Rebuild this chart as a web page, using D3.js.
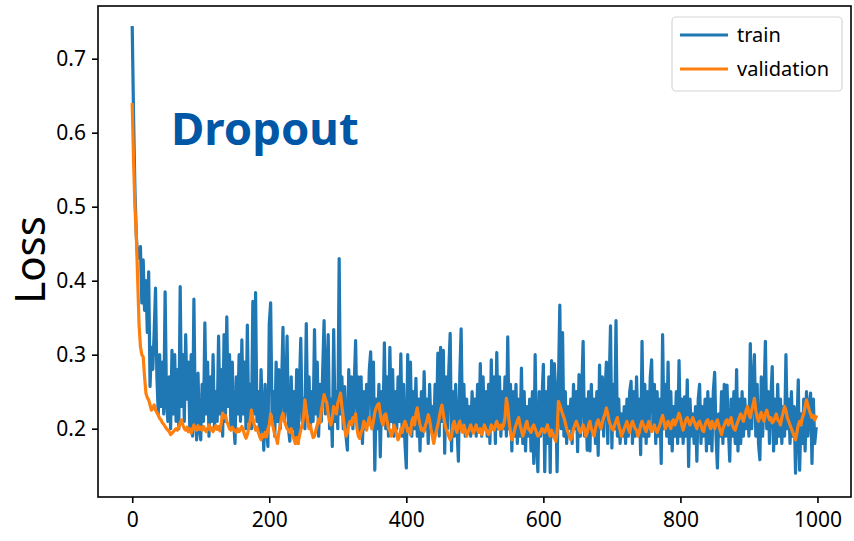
<!DOCTYPE html>
<html>
<head>
<meta charset="utf-8">
<script src="https://cdn.jsdelivr.net/npm/d3@7/dist/d3.min.js"></script>
<style>
  html, body { margin: 0; padding: 0; background: #fff; }
  svg { display: block; }
  .tick text { font-family: "Noto Sans", "Open Sans", sans-serif; }
</style>
</head>
<body>
<svg id="chart" width="854" height="541"></svg>
<script>
// ---- Data (one sample every 2 epochs) ----
const seriesNames = ["train", "validation"];
const xTicks = [0, 200, 400, 600, 800, 1000];
const yTicks = [0.2, 0.3, 0.4, 0.5, 0.6, 0.7];
const titleText = "Dropout";
const yLabel = "Loss";

const train = [
  .742,.62,.52,.46,.43,.44,.446,.37,.428,.36,
  .40,.33,.412,.257,.31,.28,.33,.39,.27,.22,
  .30,.23,.29,.22,.385,.24,.21,.27,.20,.306,
  .22,.30,.21,.28,.20,.392,.23,.30,.21,.327,
  .24,.29,.20,.30,.19,.375,.22,.185,.275,.20,
  .185,.26,.21,.343,.22,.29,.19,.27,.21,.30,
  .20,.25,.21,.325,.22,.28,.19,.327,.21,.351,
  .23,.30,.20,.29,.21,.18,.27,.22,.30,.21,
  .32,.22,.29,.20,.34,.21,.26,.20,.372,.22,
  .384,.21,.25,.19,.28,.22,.171,.26,.20,.176,
  .342,.37,.22,.25,.19,.29,.21,.28,.20,.26,
  .337,.21,.24,.325,.20,.183,.27,.20,.25,.19,
  .28,.18,.26,.322,.21,.24,.20,.342,.22,.27,
  .20,.25,.21,.334,.22,.29,.19,.26,.21,.28,
  .346,.22,.27,.327,.20,.24,.176,.334,.21,.25,
  .20,.43,.22,.27,.20,.257,.19,.171,.28,.21,
  .27,.20,.26,.319,.21,.27,.19,.27,.18,.25,
  .20,.26,.21,.28,.304,.20,.29,.144,.24,.20,
  .26,.162,.25,.21,.316,.20,.27,.19,.31,.21,
  .28,.19,.25,.20,.27,.21,.301,.19,.26,.18,
  .147,.30,.20,.29,.19,.25,.20,.268,.19,.24,
  .17,.25,.19,.277,.20,.24,.18,.26,.20,.23,
  .19,.26,.20,.302,.19,.31,.21,.306,.167,.27,
  .20,.28,.329,.17,.25,.19,.26,.20,.156,.27,
  .335,.20,.26,.19,.24,.20,.23,.19,.25,.20,
  .24,.19,.26,.20,.288,.19,.27,.20,.25,.19,
  .26,.18,.293,.20,.27,.18,.303,.20,.27,.19,
  .25,.20,.27,.19,.324,.20,.26,.17,.25,.19,
  .26,.18,.24,.19,.282,.18,.25,.17,.23,.19,
  .24,.17,.25,.153,.30,.18,.142,.25,.19,.24,
  .287,.142,.25,.18,.27,.141,.292,.19,.288,.25,
  .142,.26,.367,.20,.33,.19,.25,.18,.23,.20,
  .24,.18,.26,.20,.25,.169,.273,.19,.25,.318,
  .19,.24,.171,.25,.17,.26,.20,.24,.18,.25,
  .164,.286,.20,.27,.19,.25,.29,.18,.26,.339,
  .174,.26,.20,.346,.19,.24,.18,.22,.19,.23,
  .18,.24,.19,.25,.264,.18,.25,.19,.27,.20,
  .24,.165,.318,.19,.26,.18,.25,.19,.27,.293,
  .20,.26,.18,.25,.19,.24,.153,.327,.20,.26,
  .19,.29,.18,.25,.17,.23,.19,.25,.18,.292,
  .19,.24,.18,.243,.19,.266,.149,.24,.19,.22,
  .18,.23,.156,.24,.26,.18,.23,.19,.24,.17,
  .25,.18,.24,.17,.25,.276,.19,.147,.22,.19,
  .25,.18,.26,.19,.259,.20,.156,.24,.19,.25,
  .18,.28,.17,.24,.18,.25,.19,.24,.20,.23,
  .19,.315,.20,.26,.30,.19,.26,.18,.158,.27,
  .19,.24,.318,.20,.25,.18,.24,.284,.17,.24,
  .18,.26,.19,.24,.18,.23,.19,.30,.20,.24,
  .18,.25,.19,.23,.14,.20,.266,.144,.22,.18,
  .24,.17,.25,.19,.23,.248,.153,.24,.18,.20
];

const validation = [
  .638,.56,.50,.46,.40,.34,.311,.30,.297,.27,
  .248,.242,.239,.232,.225,.228,.232,.225,.222,.218,
  .214,.212,.208,.206,.203,.200,.198,.196,.192,.194,
  .196,.198,.200,.198,.202,.208,.212,.205,.200,.198,
  .202,.196,.200,.194,.199,.205,.200,.198,.204,.199,
  .202,.198,.203,.199,.196,.200,.205,.198,.201,.196,
  .200,.204,.199,.203,.197,.208,.221,.215,.218,.210,
  .205,.200,.198,.202,.199,.197,.195,.200,.196,.199,
  .203,.198,.192,.187,.192,.200,.210,.225,.215,.205,
  .198,.202,.195,.190,.185,.192,.189,.195,.189,.200,
  .205,.220,.210,.200,.192,.188,.180,.195,.205,.215,
  .221,.212,.205,.200,.198,.195,.200,.192,.186,.180,
  .188,.180,.190,.198,.205,.215,.239,.225,.210,.200,
  .205,.195,.188,.190,.198,.205,.213,.208,.225,.235,
  .246,.240,.235,.220,.210,.205,.215,.230,.225,.220,
  .235,.240,.248,.230,.215,.200,.190,.195,.205,.210,
  .205,.215,.210,.220,.200,.190,.187,.195,.200,.210,
  .205,.198,.208,.215,.205,.200,.210,.222,.228,.232,
  .234,.220,.210,.205,.218,.220,.210,.200,.198,.190,
  .195,.205,.200,.192,.185,.190,.200,.195,.205,.210,
  .205,.196,.200,.192,.210,.215,.205,.220,.228,.215,
  .205,.198,.200,.196,.205,.210,.219,.212,.200,.190,
  .180,.190,.198,.205,.215,.225,.232,.220,.208,.200,
  .195,.190,.185,.190,.205,.210,.200,.195,.205,.210,
  .200,.195,.205,.198,.190,.195,.200,.205,.198,.194,
  .200,.205,.198,.195,.200,.192,.198,.205,.200,.196,
  .192,.198,.205,.200,.198,.205,.210,.202,.199,.205,
  .200,.205,.215,.241,.230,.210,.195,.185,.190,.198,
  .205,.210,.215,.205,.198,.190,.195,.205,.210,.200,
  .198,.195,.202,.205,.200,.195,.190,.192,.196,.200,
  .198,.195,.200,.205,.196,.190,.198,.192,.188,.183,
  .195,.237,.232,.226,.220,.215,.208,.200,.195,.190,
  .185,.190,.200,.205,.210,.205,.198,.195,.200,.205,
  .200,.190,.195,.205,.210,.200,.195,.190,.200,.208,
  .212,.205,.200,.208,.215,.220,.228,.220,.210,.205,
  .200,.198,.205,.210,.215,.205,.198,.190,.195,.200,
  .205,.210,.200,.195,.205,.210,.205,.200,.198,.190,
  .195,.205,.210,.205,.200,.196,.205,.210,.200,.196,
  .200,.205,.198,.195,.200,.205,.212,.218,.210,.200,
  .205,.210,.205,.200,.210,.212,.205,.210,.215,.221,
  .215,.205,.198,.205,.212,.215,.210,.205,.210,.215,
  .210,.205,.200,.208,.210,.205,.198,.196,.205,.210,
  .212,.205,.200,.210,.205,.200,.208,.212,.205,.198,
  .192,.200,.205,.210,.212,.205,.210,.215,.205,.200,
  .198,.205,.210,.215,.220,.215,.210,.218,.225,.230,
  .220,.215,.225,.232,.241,.225,.215,.210,.218,.222,
  .215,.210,.220,.225,.218,.212,.215,.208,.210,.215,
  .220,.212,.210,.205,.215,.222,.230,.225,.215,.210,
  .205,.200,.195,.190,.185,.195,.205,.210,.205,.215,
  .220,.230,.239,.232,.225,.220,.215,.218,.212,.216
];
const epochs = d3.range(0, train.length * 2, 2);

// ---- Layout ----
const svg = d3.select("#chart");
const mLeft = 98, mRight = 851, mTop = 6, mBottom = 497;
const colors = ["#1f77b4", "#ff7f0e"];

const x = d3.scaleLinear().domain([-49.95, 1048.95]).range([mLeft, mRight]);
const y = d3.scaleLinear().domain([0.1077, 0.7712]).range([mBottom, mTop]);

svg.append("defs").append("clipPath").attr("id", "clip")
  .append("rect").attr("x", mLeft).attr("y", mTop).attr("width", mRight - mLeft).attr("height", mBottom - mTop);

const line = d3.line().x((d, i) => x(epochs[i])).y(d => y(d));
const plot = svg.append("g").attr("clip-path", "url(#clip)");
[train, validation].forEach((s, k) => {
  plot.append("path").datum(s)
    .attr("d", line)
    .attr("fill", "none")
    .attr("stroke", colors[k])
    .attr("stroke-width", 3.2)
    .attr("stroke-linejoin", "round")
    .attr("stroke-linecap", "square");
});

// Axes
const xAxis = d3.axisBottom(x).tickValues(xTicks).tickSize(6).tickPadding(5).tickFormat(d3.format("d"));
const yAxis = d3.axisLeft(y).tickValues(yTicks).tickSize(6).tickPadding(6).tickFormat(d3.format(".1f"));
const gx = svg.append("g").attr("transform", `translate(0,${mBottom})`).call(xAxis);
const gy = svg.append("g").attr("transform", `translate(${mLeft},0)`).call(yAxis);
[gx, gy].forEach(g => {
  g.select(".domain").remove();
  g.selectAll(".tick line").attr("stroke", "#000").attr("stroke-width", 1.6);
  g.selectAll(".tick text").attr("fill", "#000").style("font-size", "21px");
});
gx.selectAll(".tick text").attr("dy", "0.9em");

// Frame
svg.append("rect").attr("x", mLeft).attr("y", mTop).attr("width", mRight - mLeft).attr("height", mBottom - mTop)
  .attr("fill", "none").attr("stroke", "#000").attr("stroke-width", 1.6);

// Y label
svg.append("text")
  .attr("transform", `translate(45,260) rotate(-90)`)
  .attr("text-anchor", "middle")
  .style("font-family", "'Noto Sans', 'Open Sans', sans-serif")
  .style("font-size", "42px")
  .attr("fill", "#000")
  .text(yLabel);

// Title annotation
svg.append("text")
  .attr("x", 171).attr("y", 145)
  .style("font-family", "'Noto Sans', 'Open Sans', sans-serif")
  .style("font-weight", "bold")
  .style("font-size", "45.5px")
  .attr("fill", "#0057a6")
  .text(titleText);

// Legend
const lg = svg.append("g");
lg.append("rect").attr("x", 672).attr("y", 17).attr("width", 170).attr("height", 74).attr("rx", 4)
  .attr("fill", "#fff").attr("fill-opacity", 0.8).attr("stroke", "#d6d6d6").attr("stroke-width", 1.2);
seriesNames.forEach((name, k) => {
  const yy = 35 + k * 34;
  lg.append("line").attr("x1", 680).attr("x2", 728).attr("y1", yy).attr("y2", yy)
    .attr("stroke", colors[k]).attr("stroke-width", 3);
  lg.append("text").attr("x", 737).attr("y", yy).attr("dy", "0.35em")
    .style("font-family", "'Noto Sans', 'Open Sans', sans-serif")
    .style("font-size", "20px").attr("fill", "#000").text(name);
});
</script>
</body>
</html>
